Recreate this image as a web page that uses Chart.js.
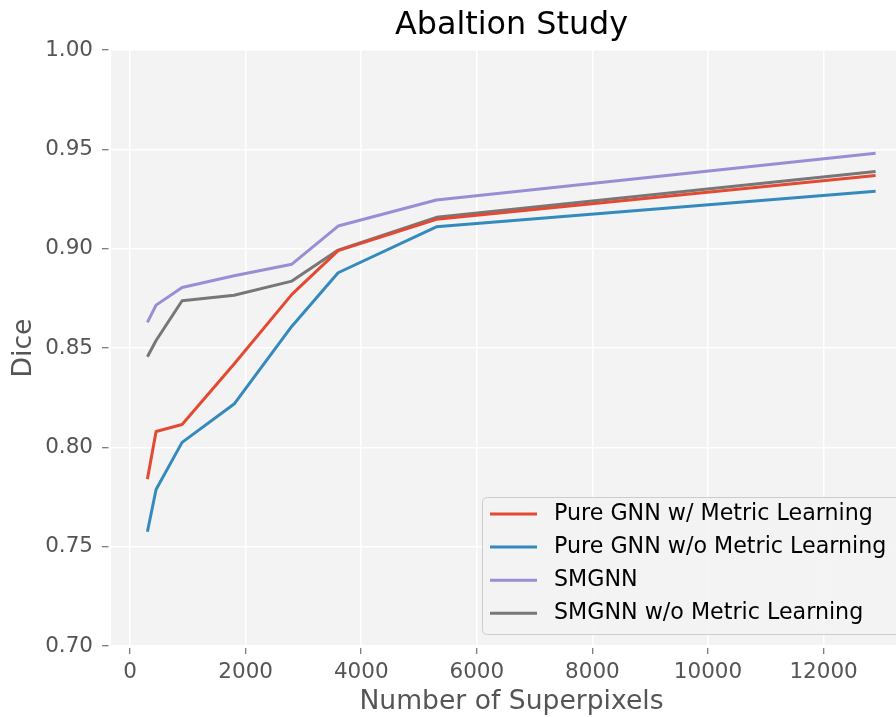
<!DOCTYPE html>
<html>
<head>
<meta charset="utf-8">
<script src="https://cdn.jsdelivr.net/npm/chart.js@4/dist/chart.umd.min.js"></script>
<style>
html,body{margin:0;padding:0;overflow:hidden;background:#ffffff;width:896px;height:717px;}
#wrap{width:920px;height:717px;}
canvas{display:block;}
</style>
</head>
<body>
<div id="wrap"><canvas id="c" width="920" height="717"></canvas></div>
<script>
// ---- data ----
const superpixels = [300, 450, 900, 1800, 2800, 3600, 5300, 12900];
const pureGnnMetric = [0.784, 0.808, 0.8115, 0.842, 0.877, 0.899, 0.9148, 0.9369];
const pureGnnNoMetric = [0.7575, 0.7788, 0.8025, 0.8218, 0.861, 0.8879, 0.911, 0.9289];
const smgnn = [0.8629, 0.8716, 0.8805, 0.8864, 0.8922, 0.9114, 0.9245, 0.948];
const smgnnNoMetric = [0.8456, 0.8538, 0.8738, 0.8766, 0.8837, 0.8993, 0.9158, 0.9389];
const seriesNames = ['Pure GNN w/ Metric Learning', 'Pure GNN w/o Metric Learning', 'SMGNN', 'SMGNN w/o Metric Learning'];
const xTickValues = [0, 2000, 4000, 6000, 8000, 10000, 12000];
const yTickValues = [0.70, 0.75, 0.80, 0.85, 0.90, 0.95, 1.00];
const xRange = [-330, 13530];
const yRange = [0.70, 1.00];
const chartTitle = 'Abaltion Study';
const xTitle = 'Number of Superpixels';
const yTitle = 'Dice';

// ---- styles ----
const seriesValues = [pureGnnMetric, pureGnnNoMetric, smgnn, smgnnNoMetric];
const colors = ['#E24A33', '#348ABD', '#988ED5', '#777777'];
const FONT = "'DejaVu Sans'";
Chart.defaults.font.family = FONT;

const bgPlugin = {
  id: 'plotBg',
  beforeDraw(chart) {
    const {ctx, chartArea: a} = chart;
    ctx.save();
    ctx.fillStyle = '#f3f3f3';
    ctx.fillRect(a.left, a.top, a.right - a.left, a.bottom - a.top);
    ctx.restore();
  }
};

const legendPlugin = {
  id: 'boxLegend',
  afterDraw(chart) {
    const ctx = chart.ctx;
    ctx.save();
    const x0 = 482.5, y0 = 497.5, w = 421, h = 137, r = 5;
    ctx.beginPath();
    ctx.moveTo(x0 + r, y0);
    ctx.lineTo(x0 + w - r, y0);
    ctx.quadraticCurveTo(x0 + w, y0, x0 + w, y0 + r);
    ctx.lineTo(x0 + w, y0 + h - r);
    ctx.quadraticCurveTo(x0 + w, y0 + h, x0 + w - r, y0 + h);
    ctx.lineTo(x0 + r, y0 + h);
    ctx.quadraticCurveTo(x0, y0 + h, x0, y0 + h - r);
    ctx.lineTo(x0, y0 + r);
    ctx.quadraticCurveTo(x0, y0, x0 + r, y0);
    ctx.closePath();
    ctx.fillStyle = 'rgba(243,243,243,0.9)';
    ctx.fill();
    ctx.strokeStyle = '#cccccc';
    ctx.lineWidth = 1;
    ctx.stroke();
    chart.data.datasets.forEach((ds, i) => {
      const cy = 514 + i * 33.1;
      ctx.beginPath();
      ctx.moveTo(490, cy);
      ctx.lineTo(537, cy);
      ctx.strokeStyle = ds.borderColor;
      ctx.lineWidth = 3;
      ctx.stroke();
      ctx.fillStyle = '#000000';
      ctx.font = '22.2px ' + FONT;
      ctx.textBaseline = 'middle';
      ctx.textAlign = 'left';
      ctx.fillText(ds.label, 554, cy);
    });
    ctx.restore();
  }
};

new Chart(document.getElementById('c').getContext('2d'), {
  type: 'line',
  data: {
    datasets: seriesValues.map((vals, i) => ({
      label: seriesNames[i],
      data: superpixels.map((x, j) => ({x: x, y: vals[j]})),
      borderColor: colors[i],
      backgroundColor: colors[i],
      borderWidth: 3,
      pointRadius: 0,
      tension: 0,
      fill: false,
      borderJoinStyle: 'round'
    }))
  },
  options: {
    responsive: false,
    animation: false,
    devicePixelRatio: 1,
    layout: {padding: {left: 0, right: 8, top: 0, bottom: 0}},
    plugins: {
      legend: {display: false},
      tooltip: {enabled: false},
      title: {
        display: true, text: chartTitle, fullSize: false, color: '#000000',
        font: {size: 31.8, weight: 'normal', lineHeight: 1.2},
        padding: {top: 6.3, bottom: 5.6}
      }
    },
    scales: {
      x: {
        type: 'linear', min: xRange[0], max: xRange[1],
        afterBuildTicks: s => { s.ticks = xTickValues.map(v => ({value: v})); },
        afterFit: s => { s.height = 71; },
        grid: {color: '#ffffff', lineWidth: 1.5, drawTicks: true, tickLength: 8, tickColor: '#555555', tickWidth: 1,
               tickBorderDash: [6, 2], tickBorderDashOffset: 6},
        border: {display: false},
        ticks: {color: '#555555', font: {size: 21.5}, padding: 5.3, maxRotation: 0, autoSkip: false, callback: v => String(v)},
        title: {display: true, text: xTitle, color: '#555555', font: {size: 26.6, lineHeight: 1.1}, padding: {top: 0, bottom: 0}}
      },
      y: {
        type: 'linear', min: yRange[0], max: yRange[1],
        afterBuildTicks: s => { s.ticks = yTickValues.map(v => ({value: v})); },
        afterFit: s => { s.width = 111; },
        grid: {color: '#ffffff', lineWidth: 1.5, drawTicks: true, tickLength: 9, tickColor: '#555555', tickWidth: 1,
               tickBorderDash: [6.5, 3]},
        border: {display: false},
        ticks: {color: '#555555', font: {size: 21.5}, padding: 9, autoSkip: false, callback: v => Number(v).toFixed(2)},
        title: {display: true, text: yTitle, color: '#555555', font: {size: 26.6, lineHeight: 1.2}, padding: {top: 8.1, bottom: 0}}
      }
    }
  },
  plugins: [bgPlugin, legendPlugin]
});
</script>
</body>
</html>
